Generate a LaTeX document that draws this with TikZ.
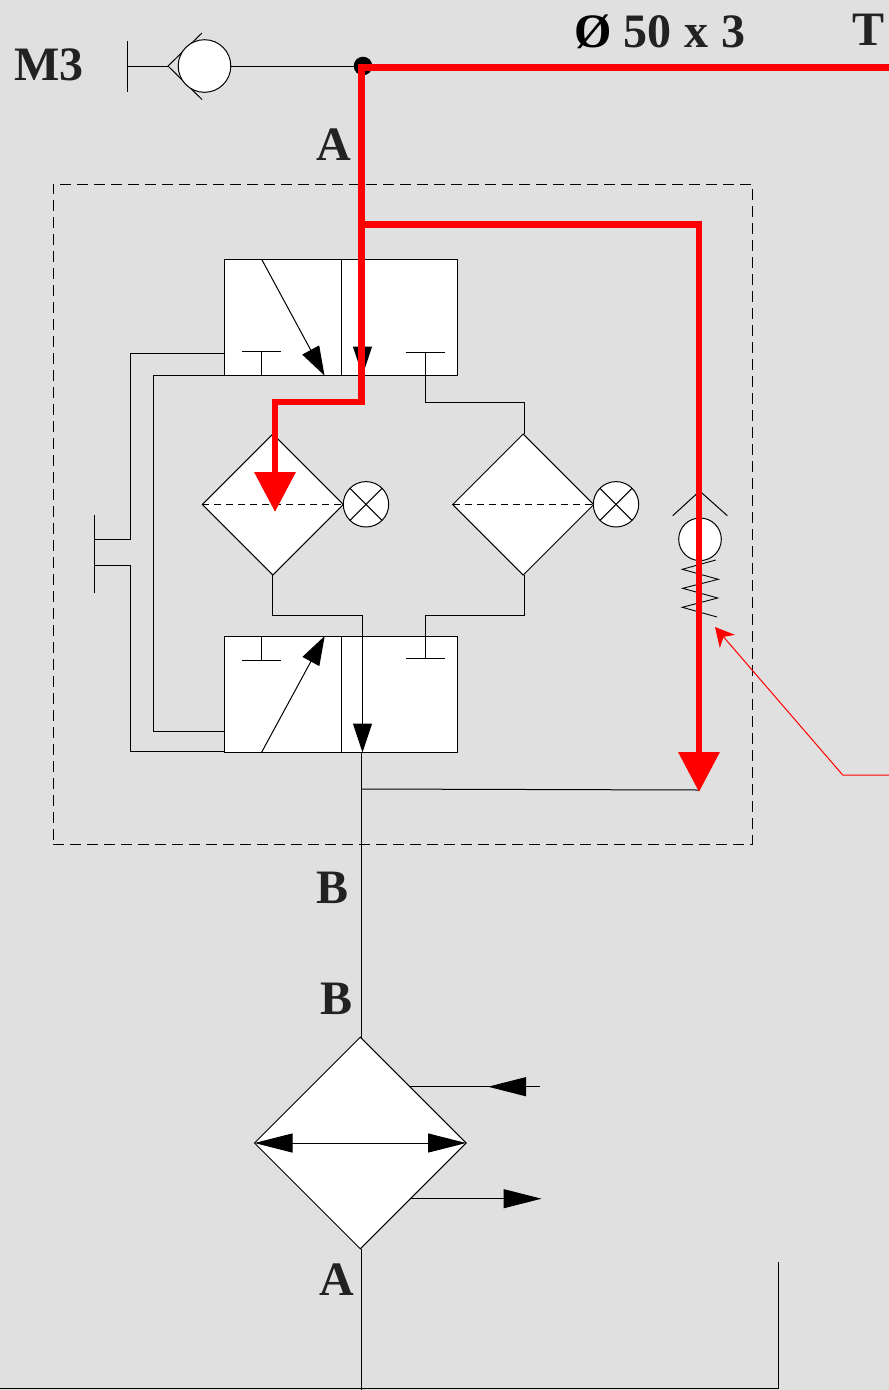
\documentclass[tikz,border=0pt]{standalone}
\usepackage{fontspec}
\setmainfont{Liberation Serif}
\usetikzlibrary{arrows.meta,shapes.geometric}
\definecolor{bg}{HTML}{E0E0E0}
\definecolor{ink}{HTML}{222222}
\tikzset{
  x=1pt,y=-1pt,
  wire/.style={draw=black,line width=1pt},
  valvehalf/.style={draw=black,fill=white,line width=1pt,rectangle,inner sep=0,outer sep=0,minimum width=116.3pt,minimum height=116.5pt},
  rhomb/.style={draw=black,fill=white,line width=1pt,diamond,aspect=1,inner sep=0,outer sep=0,minimum width=#1,minimum height=#1},
  ball/.style={draw=black,fill=white,line width=1pt,circle,inner sep=0,outer sep=0,minimum size=#1},
  lamp/.style={ball=45.4pt},
  label/.style={font=\bfseries\fontsize{48}{48}\selectfont,text=ink,inner sep=0,outer sep=0},
  flow/.style={draw=red,line width=6.7pt},
  flowhead/.style={-{Triangle[length=40pt,width=40pt]}},
  smallhead/.style={-{Triangle[length=29pt,width=19pt]}},
  midhead/.style={-{Triangle[length=38pt,width=19pt]}},
}
\begin{document}
\begin{tikzpicture}
\useasboundingbox (0,0) rectangle (889,1390);
\fill[bg] (0,0) rectangle (889,1390);

% dashed enclosure
\node[draw=black,line width=1pt,dash pattern=on 11pt off 6pt,rectangle,inner sep=0,minimum width=699pt,minimum height=660pt] (frame) at (402.5,514) {};

% coordinates
\coordinate (gaugebar) at (127,66);
\coordinate (gaugeT) at (127,41);
\coordinate (gaugeB) at (127,92);
\coordinate (vapex) at (168,66);
\coordinate (varmT) at (202,33);
\coordinate (varmB) at (202,99.5);
\coordinate (junction) at (363,66);

% M3 gauge connection
\draw[wire] (gaugeT) -- (gaugeB);
\draw[wire] (gaugebar) -- (vapex);
\draw[wire] (varmT) -- (vapex) -- (varmB);
\node[ball=52.6pt] (m3ball) at (204.5,66) {};
\draw[wire] (m3ball.east) -- (junction);
\node[circle,fill=black,inner sep=0,minimum size=18.6pt] (dot) at (junction) {};

% valves
\node[valvehalf,anchor=north west] (v1a) at (224.8,259) {};
\node[valvehalf,anchor=north west] (v1b) at (341.1,259) {};
\node[valvehalf,anchor=north west] (v2a) at (224.8,636) {};
\node[valvehalf,anchor=north west] (v2b) at (341.1,636) {};

% top valve symbols
\coordinate (v1as) at (261.5,259);
\coordinate (v1at) at (324.5,375.5);
\draw[wire,smallhead] (v1as) -- (v1at);
\coordinate (v1Tl) at (261.5,375.5);
\coordinate (v1Tlt) at (261.5,351.5);
\coordinate (v1Tll) at (242,351.5);
\coordinate (v1Tlr) at (281,351.5);
\draw[wire] (v1Tl) -- (v1Tlt) (v1Tll) -- (v1Tlr);
\coordinate (v1ms) at (362.5,340);
\coordinate (v1mt) at (362.5,375.5);
\draw[wire,smallhead] (v1ms) -- (v1mt);
\coordinate (v1Trl) at (406,352.7);
\coordinate (v1Trr) at (444.5,352.7);
\coordinate (v1Trt) at (425,352.7);
\coordinate (v1Trk) at (425,402.7);
\coordinate (drT) at (524.5,402.7);
\coordinate (drTe) at (524.5,434);
\draw[wire] (v1Trl) -- (v1Trr);

% bottom valve symbols
\coordinate (v2as) at (261.5,752.5);
\coordinate (v2at) at (324.7,636);
\draw[wire,smallhead] (v2as) -- (v2at);
\coordinate (v2Tl) at (261.5,636);
\coordinate (v2Tlb) at (261.5,660);
\coordinate (v2Tll) at (242,660);
\coordinate (v2Tlr) at (281,660);
\draw[wire] (v2Tl) -- (v2Tlb) (v2Tll) -- (v2Tlr);
\coordinate (v2Trl) at (406,658.5);
\coordinate (v2Trr) at (444.5,658.5);
\coordinate (v2Trb) at (425,658.5);
\coordinate (v2Trk) at (425,615);
\coordinate (drB) at (524.5,615);
\coordinate (drBe) at (524.5,575);
\draw[wire] (v2Trl) -- (v2Trr);

% diamonds with lamps
\node[rhomb=141pt] (dl) at (272.8,504.5) {};
\node[rhomb=141pt] (dr) at (523.2,504.5) {};
\draw[wire,dash pattern=on 7pt off 5pt] (dl.west) -- (dl.east);
\draw[wire,dash pattern=on 7pt off 5pt] (dr.west) -- (dr.east);
\node[lamp] (ll) at (366,504.3) {};
\node[lamp] (lr) at (616,504.3) {};
\draw[wire] (ll.north west) -- (ll.south east) (ll.north east) -- (ll.south west);
\draw[wire] (lr.north west) -- (lr.south east) (lr.north east) -- (lr.south west);

% valve to diamond connections
\draw[wire] (v1Trt) -- (v1Trk) -- (drT) -- (drTe);
\draw[wire] (v2Trb) -- (v2Trk) -- (drB) -- (drBe);
\coordinate (midtop) at (362.5,615);
\coordinate (midtip) at (362.5,752.5);
\draw[wire] (dl.south) |- (midtop);
\draw[wire,-{Triangle[length=29pt,width=19pt]}] (midtop) -- (midtip);

% pilot lines
\coordinate (hbar) at (94.7,515);
\coordinate (hbarb) at (94.7,593);
\coordinate (h1) at (94.7,539.3);
\coordinate (h2) at (94.7,565.7);
\coordinate (p1a) at (225,353.5);
\coordinate (p1b) at (225,375.5);
\coordinate (p2a) at (225,731.5);
\coordinate (p2b) at (225,751.7);
\draw[wire] (hbar) -- (hbarb);
\draw[wire] (p1a) -| (130.8,539.3) -- (h1);
\draw[wire] (h2) -| (130.8,751.7) -- (p2b);
\draw[wire] (p1b) -| (153.7,731.5) -- (p2a);

% lower line
\coordinate (lowtop) at (361.5,752.5);
\coordinate (branch) at (361.5,789);
\coordinate (checktip) at (699,790);
\draw[wire] (branch) -- (checktip);

% spring check valve
\coordinate (cka) at (699.7,491);
\coordinate (ckl) at (672.7,515.7);
\coordinate (ckr) at (727.3,515.7);
\draw[wire] (ckl) -- (cka) -- (ckr);
\node[ball=42.6pt] (ck) at (700,539.3) {};
\coordinate (s0) at (715.7,560);
\coordinate (s1) at (682.3,569.3);
\coordinate (s2) at (718.3,579.3);
\coordinate (s3) at (682.7,588.3);
\coordinate (s4) at (717.7,598);
\coordinate (s5) at (682.3,607.3);
\coordinate (s6) at (717,617);
\draw[draw=black,line width=0.9pt] (s0) -- (s1) -- (s2) -- (s3) -- (s4) -- (s5) -- (s6);

% heat exchanger
\node[rhomb=211.6pt] (hx) at (360.3,1143) {};
\draw[wire,{Triangle[length=38pt,width=19pt]}-{Triangle[length=38pt,width=19pt]}] (hx.west) -- (hx.east);
\coordinate (hxin) at (410,1086.7);
\coordinate (hxinend) at (540,1086.7);
\coordinate (hxintip) at (488,1086.7);
\coordinate (hxout) at (410,1198.7);
\coordinate (hxouttip) at (541.5,1198.7);
\draw[wire] (hxin) -- (hxinend);
\draw[wire,midhead] (hxinend) -- (hxintip);
\draw[wire,midhead] (hxout) -- (hxouttip);
\coordinate (hxjT) at (361.5,1037.5);
\coordinate (hxjB) at (361.5,1248.5);
\draw[wire] (lowtop) -- (hxjT);
\coordinate (botjoin) at (361.5,1390);
\draw[wire] (hxjB) -- (botjoin);
\coordinate (brl) at (0,1388);
\coordinate (brr) at (778,1388);
\coordinate (brt) at (778,1262);
\draw[wire] (brl) -- (brr) -- (brt);

% red flow paths
\coordinate (redend) at (889,67.3);
\coordinate (redcorner) at (361.7,67.3);
\coordinate (redk1) at (361.7,402);
\coordinate (redk2) at (275,402);
\coordinate (redtip) at (275,512);
\coordinate (redbr) at (361.7,224.5);
\coordinate (redk3) at (699,224.5);
\coordinate (redtip2) at (699,792);
\draw[flow,flowhead,line join=miter] (redend) -- (redcorner) -- (redk1) -- (redk2) -- (redtip);
\draw[flow,flowhead,line join=miter] (redbr) -- (redk3) -- (redtip2);

% thin red leader
\coordinate (ldA) at (889,775);
\coordinate (ldB) at (842.7,775);
\coordinate (ldC) at (715,627);
\draw[red,line width=1pt,-{Stealth[length=19pt,width=20pt,inset=6pt]}] (ldA) -- (ldB) -- (ldC);

% labels
\node[label,anchor=base west] (tm3) at (14,80) {M3};
\node[label,anchor=base west] (tdia) at (574.5,47) {\textcolor{black}{Ø} 50\hspace{1pt} x\hspace{1pt} 3};
\node[label,anchor=base west] (tt) at (852,45) {T};
\node[label,anchor=base] (ta1) at (333.5,160) {A};
\node[label,anchor=base] (tb1) at (333,903) {B};
\node[label,anchor=base] (tb2) at (336.5,1014) {B};
\node[label,anchor=base] (ta2) at (337,1295) {A};
\end{tikzpicture}
\end{document}
